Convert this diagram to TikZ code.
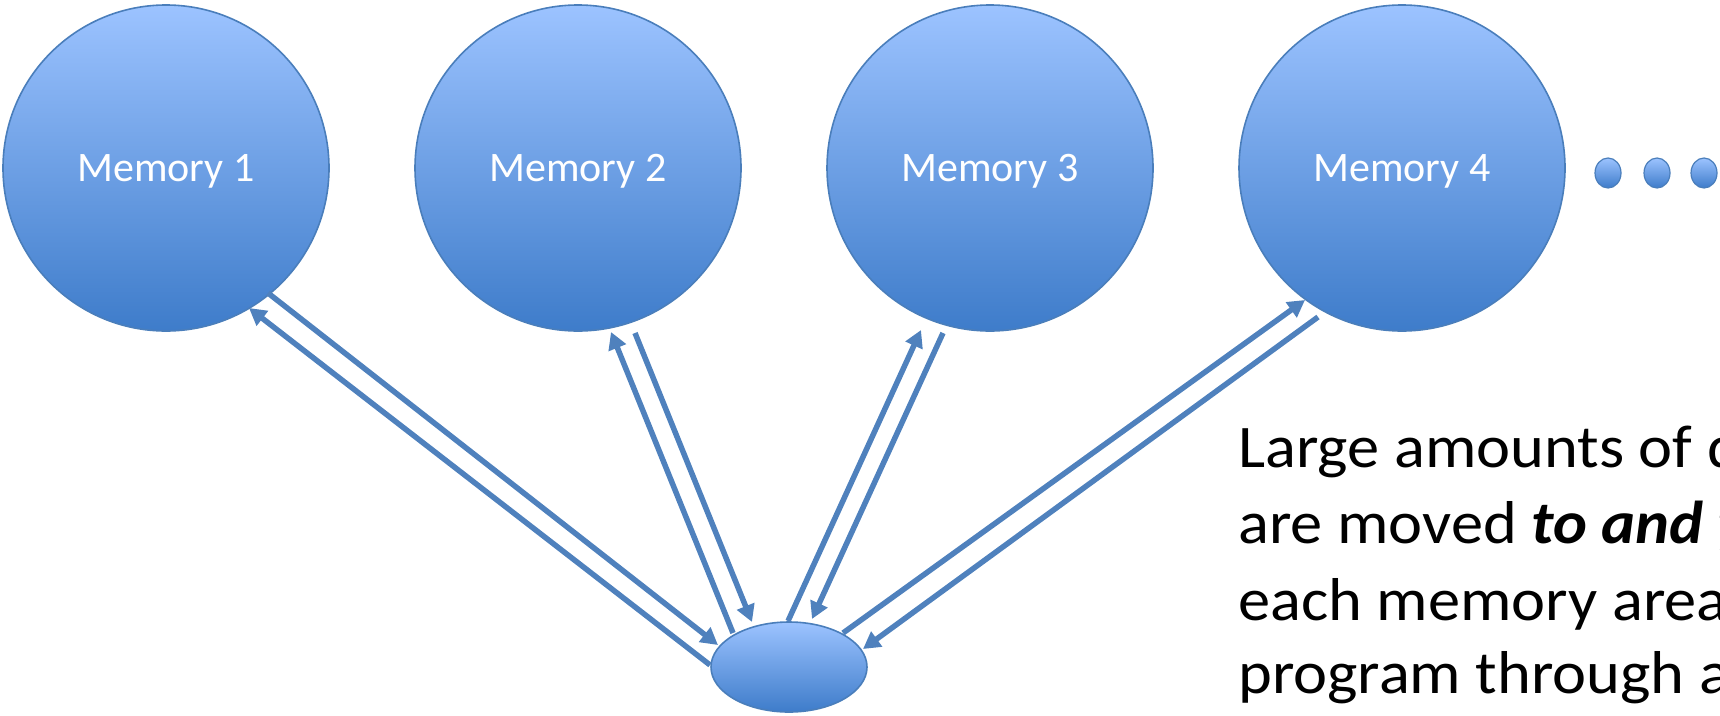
\documentclass[tikz,border=0pt]{standalone}
\usepackage{fontspec}
\setmainfont{Carlito}
\newfontfamily\notefont[FakeStretch=1.065]{Carlito}
\usetikzlibrary{arrows.meta,shapes.geometric}

\definecolor{shadetop}{RGB}{156,195,255}
\definecolor{shadebot}{RGB}{62,124,202}
\definecolor{rim}{RGB}{74,126,187}
\definecolor{linkblue}{RGB}{79,129,189}

\tikzset{
  blob/.style={draw=rim, line width=1.6pt, top color=shadetop, bottom color=shadebot,
               inner sep=0pt, outer sep=0pt},
  memory/.style={blob, circle, minimum size=326pt, text=white, text depth=0pt,
                  font=\fontsize{42}{50}\selectfont},
  hub/.style={blob, ellipse, minimum width=156pt, minimum height=90pt},
  moredot/.style={blob, ellipse, line width=1.2pt, minimum width=26pt, minimum height=30pt},
  flow/.style={draw=linkblue, line width=5.5pt},
  headed/.style={-{Triangle[length=17pt,width=18pt]}},
  note/.style={anchor=base west, inner sep=0pt, font=\notefont\fontsize{60.5}{76}\selectfont}
}

\begin{document}
\begin{tikzpicture}[x=1pt, y=-1pt]
  \clip (0,0) rectangle (1720,715);

  % memory areas
  \node[memory] (m1) at (166,168) {Memory 1};
  \node[memory] (m2) at (578,168) {Memory 2};
  \node[memory] (m3) at (990,168) {Memory 3};
  \node[memory] (m4) at (1402,168) {Memory 4};

  % continuation dots
  \node[moredot] (d1) at (1608,173) {};
  \node[moredot] (d2) at (1657,173) {};
  \node[moredot] (d3) at (1704,173) {};

  % central program
  \node[hub] (cpu) at (789,667) {};

  % two-way traffic between the program and each memory area
  \draw[flow,headed] ([shift={(-79,-2)}]cpu.center) -- ([shift={(83,140)}]m1.center);
  \draw[flow,headed] ([shift={(102,125)}]m1.center) -- ([shift={(-71,-22)}]cpu.center);

  \draw[flow,headed] ([shift={(-56,-34)}]cpu.center) -- ([shift={(33,164)}]m2.center);
  \draw[flow,headed] ([shift={(57,165)}]m2.center) -- ([shift={(-37,-45)}]cpu.center);

  \draw[flow,headed] ([shift={(-1,-46)}]cpu.center) -- ([shift={(-69,162)}]m3.center);
  \draw[flow,headed] ([shift={(-47,165)}]m3.center) -- ([shift={(23,-48)}]cpu.center);

  \draw[flow,headed] ([shift={(54,-34)}]cpu.center) -- ([shift={(-97,132)}]m4.center);
  \draw[flow,headed] ([shift={(-84,149)}]m4.center) -- ([shift={(74,-18)}]cpu.center);

  % explanatory text, running past the right edge
  \node[note] (t1) at (1238,467) {Large amounts of d};
  \node[note] (t2) at (1238,543) {are moved \textbf{\textit{to and f}}};
  \node[note] (t3) at (1238,620) {each memory area};
  \node[note] (t4) at (1238,693) {program through a};
\end{tikzpicture}
\end{document}
